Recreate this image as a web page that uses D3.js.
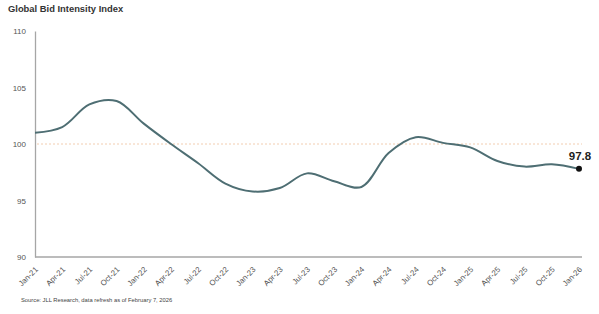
<!DOCTYPE html>
<html>
<head>
<meta charset="utf-8">
<script src="https://cdn.jsdelivr.net/npm/d3@7"></script>
<style>
  body { margin: 0; background: #fff; }
  text { font-family: "Liberation Sans", Arial, sans-serif; }
</style>
</head>
<body>
<div id="chart"></div>
<script>
// quarterly readings of the index
const quarters = ["Jan-21","Apr-21","Jul-21","Oct-21","Jan-22","Apr-22","Jul-22","Oct-22",
    "Jan-23","Apr-23","Jul-23","Oct-23","Jan-24","Apr-24","Jul-24","Oct-24",
    "Jan-25","Apr-25","Jul-25","Oct-25","Jan-26"];
const values = [101.0, 101.5, 103.5, 103.8, 101.8, 100.0, 98.3, 96.5,
    95.8, 96.1, 97.4, 96.7, 96.2, 99.2, 100.6, 100.1,
    99.7, 98.5, 98.0, 98.2, 97.8];
const yTicks = [90, 95, 100, 105, 110];
const refValue = 100;

const width = 599;
const height = 314;
const margin = { top: 31, left: 35, right: 20, bottom: 57 };

const svg = d3.select("#chart")
    .append("svg")
    .attr("width", width)
    .attr("height", height);

const xScale = d3.scalePoint()
    .domain(quarters)
    .range([margin.left, 579]);

const yScale = d3.scaleLinear()
    .domain([90, 110])
    .range([height - margin.bottom, margin.top]);

// title
svg.append("text")
    .attr("x", 8)
    .attr("y", 12)
    .text("Global Bid Intensity Index")
    .attr("font-size", 9.4)
    .attr("font-weight", "bold")
    .attr("fill", "#333");

// reference line at 100
svg.append("line")
    .attr("x1", margin.left + 2)
    .attr("x2", 582)
    .attr("y1", yScale(refValue))
    .attr("y2", yScale(refValue))
    .attr("stroke", "#f2cdb0")
    .attr("stroke-width", 1)
    .attr("stroke-dasharray", "2,2");

// axes
const yAxis = svg.append("g")
    .attr("transform", `translate(${margin.left},0)`)
    .call(d3.axisLeft(yScale).tickValues(yTicks).tickSize(0).tickPadding(9));
yAxis.select(".domain").attr("stroke", "#a6a6a6").attr("stroke-width", 1.3);
yAxis.selectAll("text").attr("font-size", 8).attr("fill", "#555");

const xAxis = svg.append("g")
    .attr("transform", `translate(0,${height - margin.bottom})`)
    .call(d3.axisBottom(xScale).tickSize(0).tickSizeOuter(0));
xAxis.select(".domain").attr("d", `M${margin.left},0H582`).attr("stroke", "#a6a6a6").attr("stroke-width", 1.3);
xAxis.selectAll("text")
    .attr("font-size", 7.8)
    .attr("fill", "#555")
    .style("text-anchor", "end")
    .attr("x", 0)
    .attr("y", 0)
    .attr("dy", 0)
    .attr("transform", "translate(3,13) rotate(-45)");

// line
const line = d3.line()
    .x(function (d, i) { return xScale(quarters[i]); })
    .y(function (d) { return yScale(d); })
    .curve(d3.curveCatmullRom.alpha(0.5));

svg.append("path")
    .datum(values)
    .attr("d", line)
    .attr("fill", "none")
    .attr("stroke", "#4e6e73")
    .attr("stroke-width", 2);

// last point
const lastQ = quarters[quarters.length - 1];
const lastV = values[values.length - 1];
svg.append("circle")
    .attr("cx", xScale(lastQ))
    .attr("cy", yScale(lastV))
    .attr("r", 3)
    .attr("fill", "#111");

svg.append("text")
    .attr("x", xScale(lastQ) + 1)
    .attr("y", yScale(lastV) - 9)
    .attr("text-anchor", "middle")
    .attr("font-size", 11.5)
    .attr("font-weight", "bold")
    .attr("fill", "#222")
    .text(lastV.toFixed(1));

// source
svg.append("text")
    .attr("x", 21)
    .attr("y", 302)
    .attr("font-size", 5.8)
    .attr("fill", "#444")
    .text("Source: JLL Research, data refresh as of February 7, 2026");
</script>
</body>
</html>
